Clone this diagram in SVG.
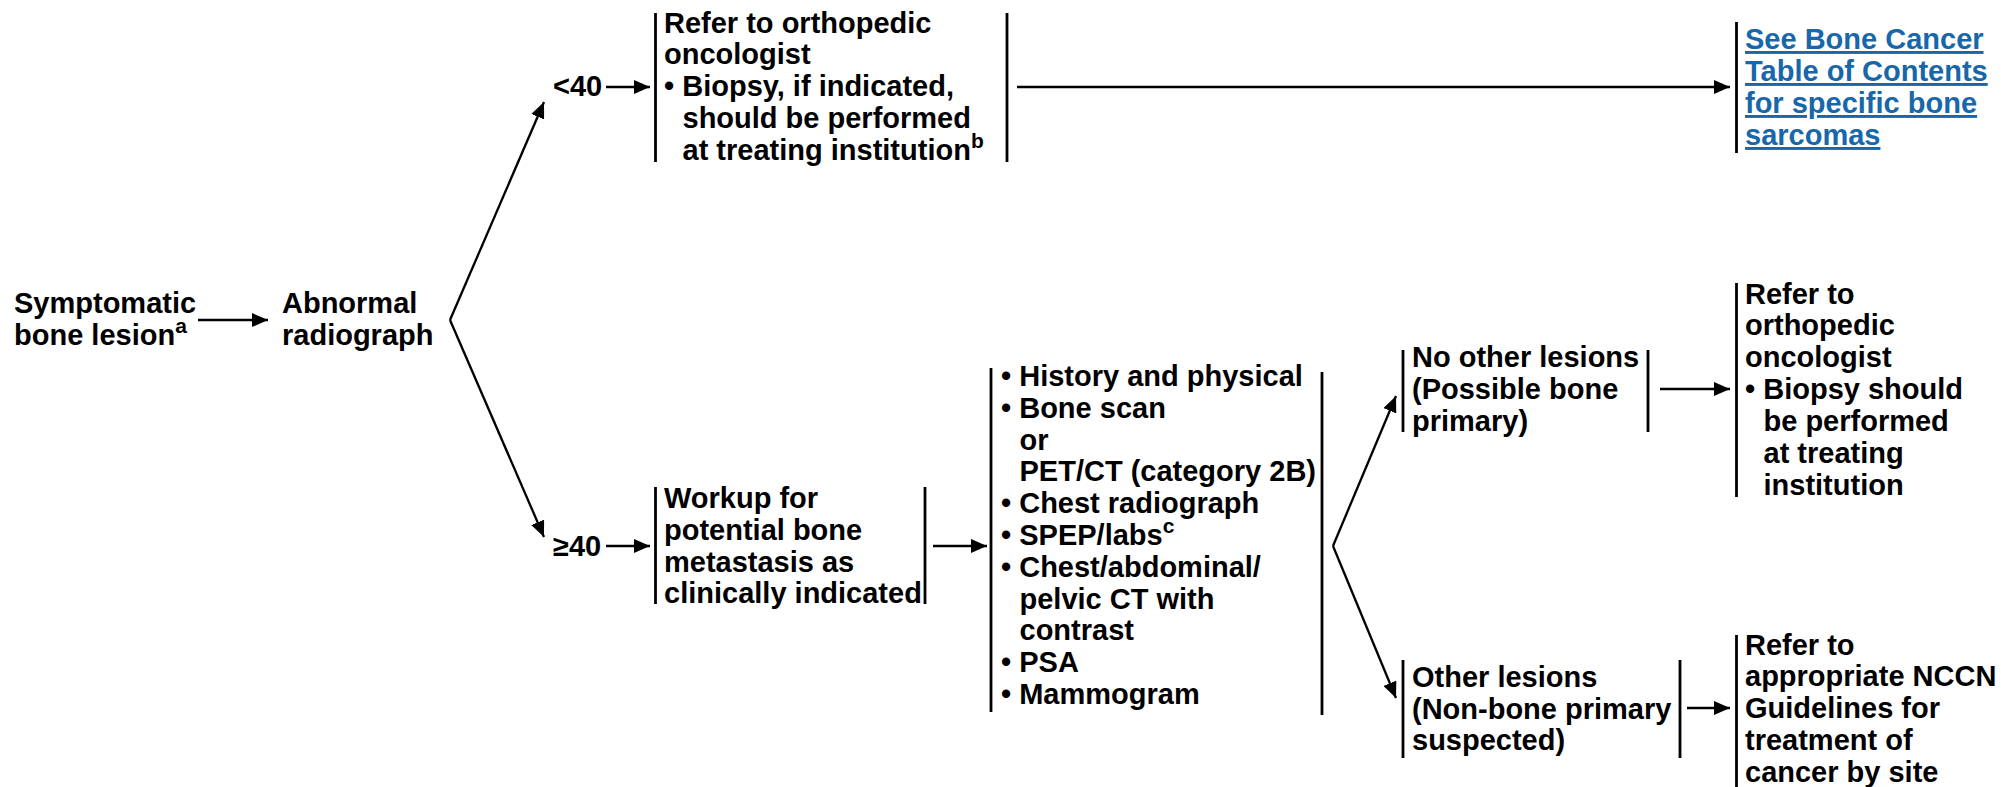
<svg xmlns="http://www.w3.org/2000/svg" width="2001" height="787" viewBox="0 0 2001 787">
<defs>
<style>
text{font-family:"Liberation Sans",Arial,sans-serif;font-weight:bold;font-size:29px;fill:#000}
.sup{font-size:21px}
.link{fill:#1767aa;text-decoration:underline}
.bar{stroke:#000;stroke-width:2.8;fill:none}
.conn{stroke:#000;stroke-width:2.3;fill:none;marker-end:url(#ah)}
</style>
<marker id="ah" markerUnits="userSpaceOnUse" markerWidth="17" markerHeight="14" refX="16" refY="7" orient="auto">
<path d="M0,0 L16,7 L0,14 z" fill="#000"/>
</marker>
</defs>
<rect width="2001" height="787" fill="#fff"/>
<g id="connectors">
<path class="conn" d="M198,320 L268,320"/>
<path class="conn" d="M450,320 L544,102"/>
<path class="conn" d="M450,320 L544,537"/>
<path class="conn" d="M606,87 L650,87"/>
<path class="conn" d="M606,546 L650,546"/>
<path class="conn" d="M1017,87 L1730,87"/>
<path class="conn" d="M933,546 L987,546"/>
<path class="conn" d="M1333,546 L1396,396"/>
<path class="conn" d="M1333,546 L1396,698"/>
<path class="conn" d="M1660,389 L1730,389"/>
<path class="conn" d="M1687,708 L1730,708"/>
</g>
<g id="symptomatic">
<text x="14" y="313">Symptomatic</text>
<text x="14" y="345">bone lesion<tspan class="sup" dy="-12">a</tspan></text>
</g>
<g id="abnormal">
<text x="282" y="313">Abnormal</text>
<text x="282" y="345">radiograph</text>
</g>
<g id="lt40">
<text x="553" y="96">&lt;40</text>
</g>
<g id="ge40">
<text x="553" y="556">≥40</text>
</g>
<g id="refer-upper">
<line class="bar" x1="655.5" y1="13" x2="655.5" y2="162"/>
<line class="bar" x1="1007" y1="13" x2="1007" y2="162"/>
<text x="664" y="33">Refer to orthopedic</text>
<text x="664" y="64">oncologist</text>
<text x="664" y="96">• Biopsy, if indicated,</text>
<text x="682.5" y="128">should be performed</text>
<text x="682.5" y="160">at treating institution<tspan class="sup" dy="-12">b</tspan></text>
</g>
<g id="see-bone">
<line class="bar" x1="1736.5" y1="22" x2="1736.5" y2="153"/>
<text class="link" x="1745" y="49">See Bone Cancer</text>
<text class="link" x="1745" y="81">Table of Contents</text>
<text class="link" x="1745" y="113">for specific bone</text>
<text class="link" x="1745" y="145">sarcomas</text>
</g>
<g id="workup">
<line class="bar" x1="655.5" y1="487" x2="655.5" y2="604"/>
<line class="bar" x1="925" y1="487" x2="925" y2="604"/>
<text x="664" y="508">Workup for</text>
<text x="664" y="540">potential bone</text>
<text x="664" y="572">metastasis as</text>
<text x="664" y="603">clinically indicated</text>
</g>
<g id="workup-list">
<line class="bar" x1="991" y1="368" x2="991" y2="712"/>
<line class="bar" x1="1322" y1="372" x2="1322" y2="715"/>
<text x="1001" y="386">• History and physical</text>
<text x="1001" y="418">• Bone scan</text>
<text x="1019.5" y="450">or</text>
<text x="1019.5" y="481">PET/CT (category 2B)</text>
<text x="1001" y="513">• Chest radiograph</text>
<text x="1001" y="545">• SPEP/labs<tspan class="sup" dy="-12">c</tspan></text>
<text x="1001" y="577">• Chest/abdominal/</text>
<text x="1019.5" y="609">pelvic CT with</text>
<text x="1019.5" y="640">contrast</text>
<text x="1001" y="672">• PSA</text>
<text x="1001" y="704">• Mammogram</text>
</g>
<g id="no-other-lesions">
<line class="bar" x1="1403" y1="350" x2="1403" y2="432"/>
<line class="bar" x1="1648" y1="350" x2="1648" y2="432"/>
<text x="1412" y="367">No other lesions</text>
<text x="1412" y="399">(Possible bone</text>
<text x="1412" y="431">primary)</text>
</g>
<g id="refer-ortho">
<line class="bar" x1="1736.5" y1="283" x2="1736.5" y2="497"/>
<text x="1745" y="304">Refer to</text>
<text x="1745" y="335">orthopedic</text>
<text x="1745" y="367">oncologist</text>
<text x="1745" y="399">• Biopsy should</text>
<text x="1763.5" y="431">be performed</text>
<text x="1763.5" y="463">at treating</text>
<text x="1763.5" y="495">institution</text>
</g>
<g id="other-lesions">
<line class="bar" x1="1403" y1="660" x2="1403" y2="758"/>
<line class="bar" x1="1680" y1="660" x2="1680" y2="758"/>
<text x="1412" y="687">Other lesions</text>
<text x="1412" y="719">(Non-bone primary</text>
<text x="1412" y="750">suspected)</text>
</g>
<g id="refer-nccn">
<line class="bar" x1="1736.5" y1="635" x2="1736.5" y2="787"/>
<text x="1745" y="655">Refer to</text>
<text x="1745" y="686">appropriate NCCN</text>
<text x="1745" y="718">Guidelines for</text>
<text x="1745" y="750">treatment of</text>
<text x="1745" y="782">cancer by site</text>
</g>
</svg>
